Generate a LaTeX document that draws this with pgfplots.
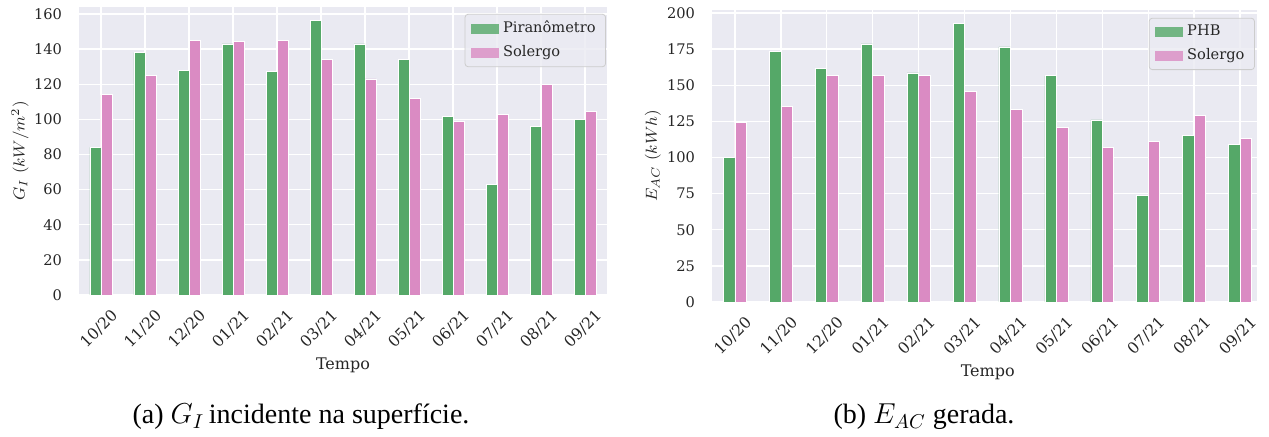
\documentclass[border=0pt]{standalone}
\usepackage{fontspec}
\setmainfont{DejaVu Serif}
\newfontfamily\capfont{Liberation Serif}
\usepackage{pgfplots}
\pgfplotsset{compat=1.18}
\definecolor{bgcol}{HTML}{EAEAF2}
\definecolor{sgreen}{HTML}{55A868}
\definecolor{spink}{HTML}{DA8BC3}
\definecolor{txt}{HTML}{262626}
\definecolor{legdraw}{HTML}{CCCCCC}
\pgfplotsset{
  sbstyle/.style={
    scale only axis,
    anchor=south west,
    ybar=0pt,
    bar width=0.25,
    xmin=-0.5,
    ymin=0,
    xtick={0,...,11},
    xticklabels={10/20,11/20,12/20,01/21,02/21,03/21,04/21,05/21,06/21,07/21,08/21,09/21},
    axis background/.style={fill=bgcol},
    axis line style={draw=none},
    major tick length=0pt,
    tick style={draw=none},
    xmajorgrids, ymajorgrids,
    grid style={white, line width=0.65pt},
    /pgf/number format/assume math mode=true,
    tick label style={font=\fontsize{7.3}{8}\selectfont, text=txt},
    yticklabel style={anchor=east, xshift=-5pt},
    xticklabel style={font=\fontsize{7.8}{8.5}\selectfont, yshift=-17pt, xshift=-1pt, rotate=45, anchor=center},
    legend cell align=left,
    legend style={font=\fontsize{7.3}{8.4}\selectfont, text=txt, fill=bgcol, fill opacity=0.8, text opacity=1, draw=legdraw, rounded corners=1.5pt, anchor=north east, inner xsep=3pt, inner ysep=1.5pt, row sep=0.8pt},
    legend image code/.code={\fill[##1, draw=none, sharp corners] (0pt,-2.5pt) rectangle (14pt,2.5pt);},
  },
  barstyle/.style={fill=#1, draw=white, line width=0.3pt},
}
\begin{document}
\begin{tikzpicture}
\useasboundingbox (0pt,0pt) rectangle (634.5pt,218.5pt);
% ---- left axis
\begin{axis}[sbstyle,
  at={(39.5pt,71pt)}, width=264pt, height=144pt,
  xmax=11.5, ymax=164,
  ytick={0,20,...,160},
  xlabel={Tempo}, ylabel={$G_I\ (kW/m^2)$},
  every axis x label/.style={at={(axis description cs:0.5,-0.243)}, anchor=center, font=\fontsize{8}{9.6}\selectfont, text=txt},
  every axis y label/.style={at={(axis description cs:-0.1117,0.5)}, rotate=90, anchor=center, font=\fontsize{8}{9.6}\selectfont, text=txt},
  legend style={at={(axis description cs:0.998,0.976)}},
]
\addplot[barstyle=sgreen] coordinates {(0,84) (1,138) (2,128) (3,143) (4,127.5) (5,156.5) (6,143) (7,134) (8,101.5) (9,63) (10,96) (11,100)};
\addplot[barstyle=spink] coordinates {(0,114) (1,125) (2,145) (3,144.5) (4,145) (5,134) (6,123) (7,112) (8,99) (9,103) (10,120) (11,104.5)};
\legend{Piranômetro, Solergo}
\end{axis}
% ---- right axis
\begin{axis}[sbstyle,
  at={(356pt,67.5pt)}, width=272.5pt, height=146pt,
  xmax=11.37, ymax=202,
  ytick={0,25,...,200},
  xlabel={Tempo}, ylabel={$E_{AC}\ (kWh)$},
  every axis x label/.style={at={(axis description cs:0.506,-0.240)}, anchor=center, font=\fontsize{8}{9.6}\selectfont, text=txt},
  every axis y label/.style={at={(axis description cs:-0.1083,0.5)}, rotate=90, anchor=center, font=\fontsize{8}{9.6}\selectfont, text=txt},
  legend style={at={(axis description cs:0.996,0.973)}},
]
\addplot[barstyle=sgreen] coordinates {(0,100) (1,173.5) (2,161.5) (3,178.5) (4,158.5) (5,192.5) (6,176.5) (7,156.5) (8,126) (9,74) (10,115) (11,109)};
\addplot[barstyle=spink] coordinates {(0,124) (1,135.5) (2,156.5) (3,156.5) (4,156.5) (5,145.5) (6,133) (7,121) (8,107) (9,111) (10,129) (11,113)};
\legend{PHB, Solergo}
\end{axis}
% ---- captions
\node[font=\capfont\fontsize{14}{16}\selectfont, anchor=center] at (150.5pt,10pt) {(a) $G_I$\,incidente na superfície.};
\node[font=\capfont\fontsize{14}{16}\selectfont, anchor=center] at (462pt,10pt) {(b) $E_{AC}$ gerada.};
\end{tikzpicture}
\end{document}
